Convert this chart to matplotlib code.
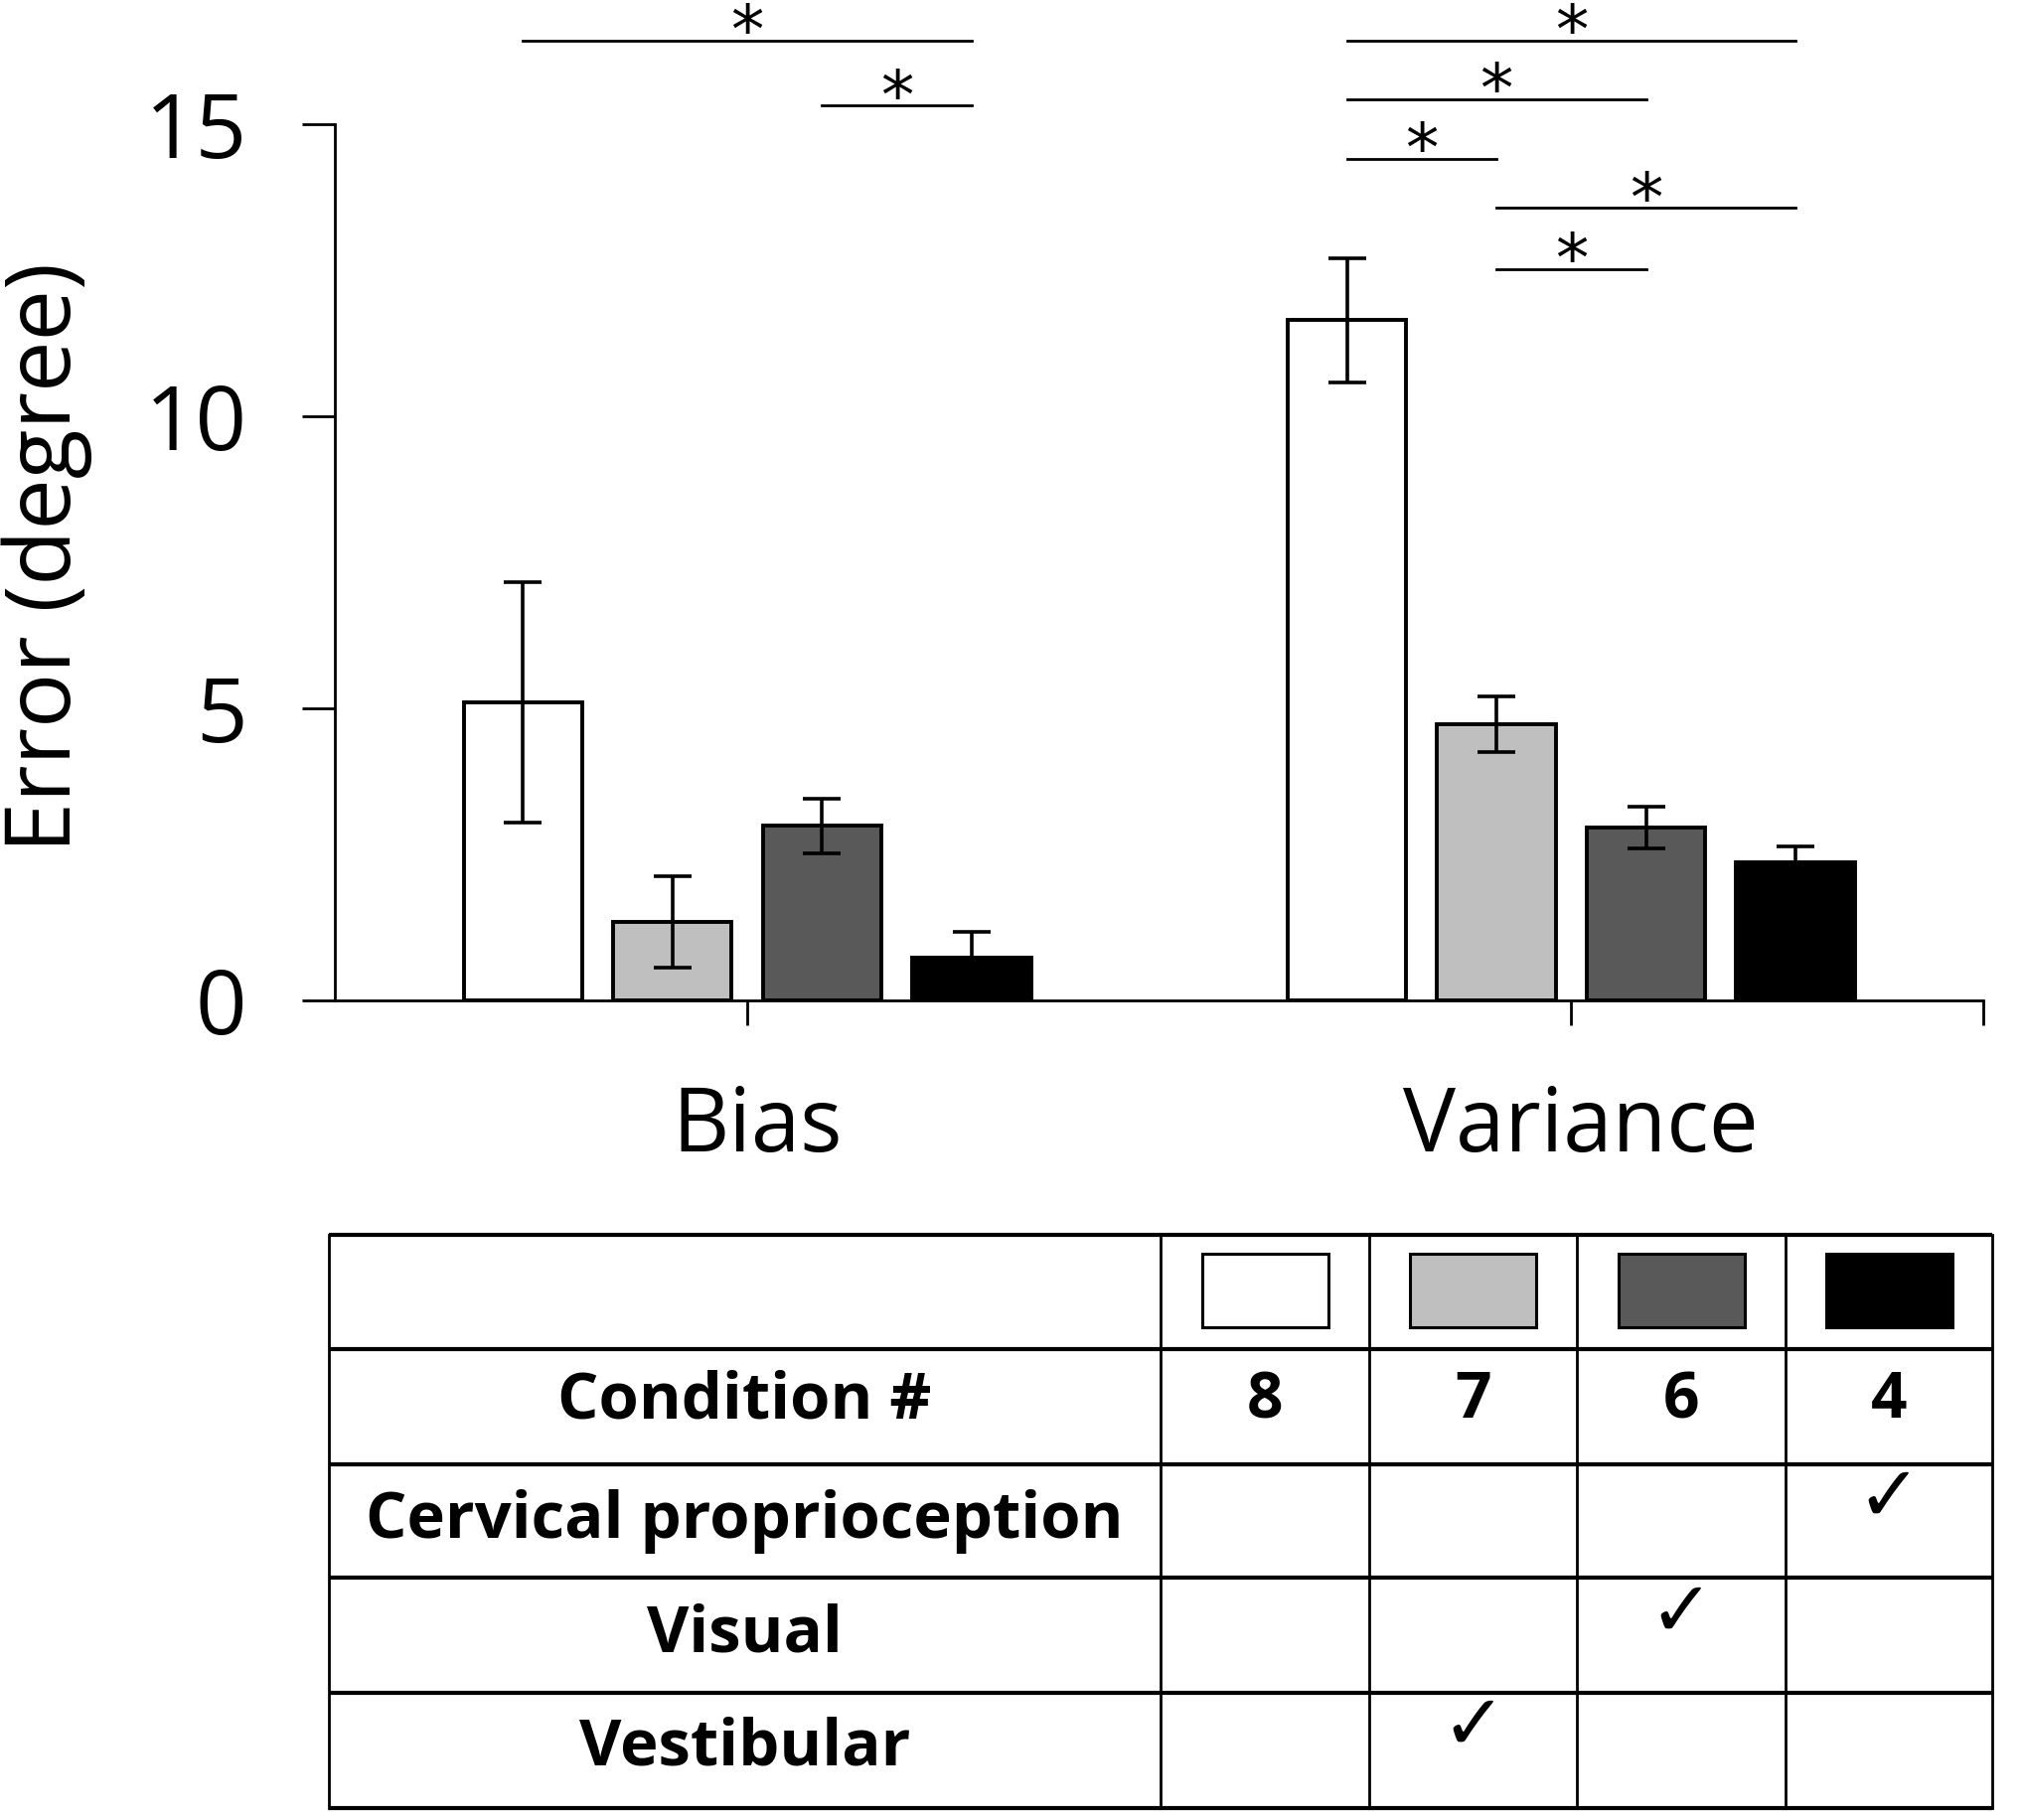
import matplotlib
matplotlib.use("Agg")
import matplotlib.pyplot as plt
from matplotlib.patches import Rectangle
import numpy as np

plt.rcParams['font.family'] = ['Open Sans', 'DejaVu Sans']

# ---------------- data ----------------
categories = ['Bias', 'Variance']
conditions = ['8', '7', '6', '4']
colors = ['#FFFFFF', '#BFBFBF', '#595959', '#000000']

cond8 = [5.10, 11.64]
cond7 = [1.35, 4.73]
cond6 = [2.99, 2.96]
cond4 = [0.73, 2.37]
err8 = [2.05, 1.06]
err7 = [0.78, 0.48]
err6 = [0.47, 0.35]
err4 = [0.44, 0.27]

yticks = [0, 5, 10, 15]

# significance brackets: (category index, bar i, bar j, height)
sig_pairs = [
    (0, 0, 3, 16.42),
    (0, 2, 3, 15.31),
    (1, 0, 3, 16.42),
    (1, 0, 2, 15.42),
    (1, 0, 1, 14.40),
    (1, 1, 3, 13.56),
    (1, 1, 2, 12.52),
]

row_labels = ['Condition #', 'Cervical proprioception', 'Visual', 'Vestibular']
# which condition column is checked for each sensory row
checks = {'Cervical proprioception': '4', 'Visual': '6', 'Vestibular': '7'}

# ---------------- figure ----------------
fig = plt.figure(figsize=(20.35, 18.32), dpi=100)
ax = fig.add_axes([0.1658, 0.4503, 0.8150, 0.5491])

means = [cond8, cond7, cond6, cond4]
errs = [err8, err7, err6, err4]
x = np.arange(len(categories))
spacing = 0.1815
width = 0.144
for i, (m, e, c) in enumerate(zip(means, errs, colors)):
    xs = x + (i - 1.5) * spacing
    ax.bar(xs, m, width=width, color=c, edgecolor='black', linewidth=2.8, zorder=2)
    ax.errorbar(xs, m, yerr=e, fmt='none', ecolor='black', elinewidth=2.6,
                capsize=14, capthick=2.6, zorder=3)

for cat, i, j, h in sig_pairs:
    x1 = cat + (i - 1.5) * spacing
    x2 = cat + (j - 1.5) * spacing
    ax.plot([x1, x2], [h, h], color='black', lw=2.0, clip_on=False)
    ax.annotate('*', xy=((x1 + x2) / 2, h), xytext=(0, -19), textcoords='offset points',
                ha='center', va='bottom', fontsize=48, annotation_clip=False,
                family='DejaVu Sans')

ax.set_xlim(-0.5, 1.5)
ax.set_ylim(0, 17.1)
ax.spines['top'].set_visible(False)
ax.spines['right'].set_visible(False)
ax.spines['left'].set_bounds(0, 15)
ax.spines['left'].set_linewidth(2.0)
ax.spines['bottom'].set_linewidth(2.0)
ax.set_yticks(yticks)
ax.set_yticklabels([str(v) for v in yticks], fontsize=65)
ax.tick_params(axis='y', length=24, width=2.0, pad=40)
ax.set_xticks([0, 1, 1.5])
ax.set_xticklabels(['', '', ''])
ax.tick_params(axis='x', length=18, width=2.0, direction='out')
for xi, cat in zip(x, categories):
    ax.text(xi + 0.012, -2.58, cat, ha='center', va='baseline', fontsize=64)

fig.text(47 / 2035, 1 - 561 / 1832, 'Error (degree)', rotation=90,
         ha='center', va='center', fontsize=66)

# ---------------- table ----------------
tax = fig.add_axes([0.1627, 0.0049, 0.8226, 0.3166])
tax.set_xlim(0, 1290)
tax.set_ylim(447, 0)
tax.axis('off')
col_edges = [0, 645, 807, 968, 1130, 1290]
row_edges = [0, 89, 178, 266, 355, 445]
for r in row_edges:
    tax.plot([0, 1290], [r, r], color='black', lw=3.0, solid_capstyle='butt', clip_on=False)
for c in col_edges:
    tax.plot([c, c], [0, 445], color='black', lw=2.0, clip_on=False)

col_centers = [(col_edges[k] + col_edges[k + 1]) / 2 for k in range(len(col_edges) - 1)]
for k, (cond, colr) in enumerate(zip(conditions, colors)):
    cx = col_centers[k + 1]
    tax.add_patch(Rectangle((cx - 49, 15), 98, 57, facecolor=colr, edgecolor='black', lw=2.2))
    tax.text(cx, 142, cond, ha='center', va='baseline', fontsize=46, fontweight='bold')

label_baselines = [142, 235, 323, 411]
for lab, yb in zip(row_labels, label_baselines):
    tax.text(col_centers[0], yb, lab, ha='center', va='baseline', fontsize=47, fontweight='bold')

check_centers = {'Cervical proprioception': 205, 'Visual': 294, 'Vestibular': 382}
for lab, cond in checks.items():
    k = conditions.index(cond)
    tax.text(col_centers[k + 1], check_centers[lab], '\u2713', ha='center', va='center',
             fontsize=56, family='DejaVu Sans', fontweight='bold')

fig.savefig('out.png', dpi=100)
